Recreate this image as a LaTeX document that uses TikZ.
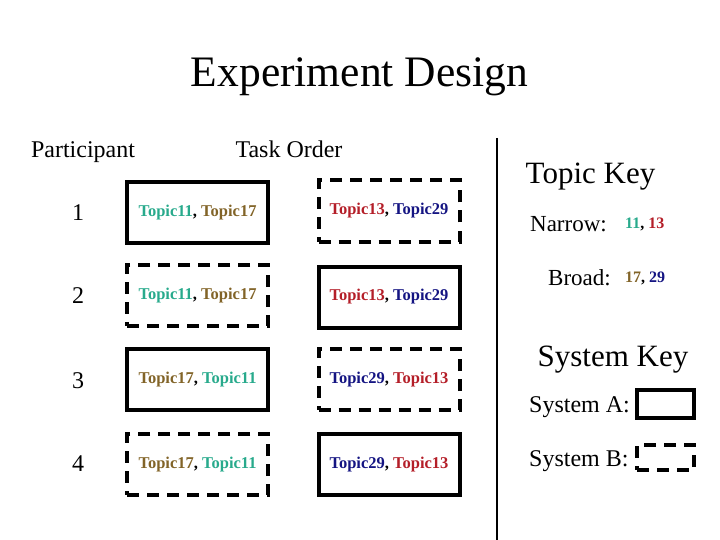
\documentclass[tikz,border=0pt]{standalone}
\usepackage{fontspec}
\setmainfont{Liberation Serif}
\usepackage{tikz}
\usetikzlibrary{positioning}
\definecolor{TopicTeal}{RGB}{40,170,140}
\definecolor{TopicBrown}{RGB}{130,100,40}
\definecolor{TopicRed}{RGB}{180,30,40}
\definecolor{TopicNavy}{RGB}{20,20,130}

\newcommand{\tA}{\textcolor{TopicTeal}{Topic11}}
\newcommand{\tB}{\textcolor{TopicBrown}{Topic17}}
\newcommand{\tC}{\textcolor{TopicRed}{Topic13}}
\newcommand{\tD}{\textcolor{TopicNavy}{Topic29}}

\begin{document}
\begin{tikzpicture}[
  x=1pt, y=-1pt,
  label/.style={anchor=base, inner sep=0pt, font=\fontsize{24}{28}\selectfont},
  heading/.style={anchor=base, inner sep=0pt, font=\fontsize{31}{36}\selectfont},
  sysA/.style={rectangle, draw=black, line width=4pt, minimum width=141pt, minimum height=61pt,
               inner sep=0pt, font=\fontsize{16.5}{20}\selectfont\bfseries},
  sysB/.style={sysA, dash pattern=on 12pt off 8pt},
  num/.style={inner sep=0pt, font=\fontsize{16}{20}\selectfont\bfseries}
]
\useasboundingbox (0,0) rectangle (720,540);

\node[anchor=base, inner sep=0pt, font=\fontsize{43.5}{50}\selectfont] (title) at (359.5,87) {Experiment Design};
\node[label] (participant) at (83,158) {Participant};
\node[label] (taskorder) at (289,158) {Task Order};

% participants
\node[label] (p1) at (78,221) {1};
\node[label] (p2) at (78,303) {2};
\node[label] (p3) at (78,388) {3};
\node[label] (p4) at (78,471) {4};

% task boxes
\node[sysA] (t11) at (197.5,212.5) {\tA, \tB};
\node[sysB] (t12) at (389,211) {\tC, \tD};
\node[sysB] (t21) at (197.5,295.5) {\tA, \tB};
\node[sysA] (t22) at (389,297) {\tC, \tD};
\node[sysA] (t31) at (197.5,379.5) {\tB, \tA};
\node[sysB] (t32) at (389,379.5) {\tD, \tC};
\node[sysB] (t41) at (197.5,464.5) {\tB, \tA};
\node[sysA] (t42) at (389,464.5) {\tD, \tC};

% divider
\coordinate (divtop) at (497,138);
\coordinate (divbot) at (497,540);
\draw[line width=1.5pt] (divtop) -- (divbot);

% topic key
\node[heading] (topickey) at (590.5,184) {Topic Key};
\node[label, anchor=base east, font=\fontsize{23}{28}\selectfont] (narrow) at (607,231) {Narrow:};
\node[num, anchor=base west] (narrownum) at (625,228.5) {\textcolor{TopicTeal}{11}, \textcolor{TopicRed}{13}};
\node[label, anchor=base east, font=\fontsize{23}{28}\selectfont] (broad) at (611,285) {Broad:};
\node[num, anchor=base west] (broadnum) at (625,282) {\textcolor{TopicBrown}{17}, \textcolor{TopicNavy}{29}};

% system key
\node[heading] (systemkey) at (613,366) {System Key};
\node[label, anchor=base west] (sysa) at (529,412) {System A:};
\node[sysA, minimum width=57pt, minimum height=28pt] (keya) at (665.5,404) {};
\node[label, anchor=base west] (sysb) at (529,466) {System B:};
\node[sysB, minimum width=57pt, minimum height=25pt] (keyb) at (665.5,457.5) {};
\end{tikzpicture}
\end{document}
